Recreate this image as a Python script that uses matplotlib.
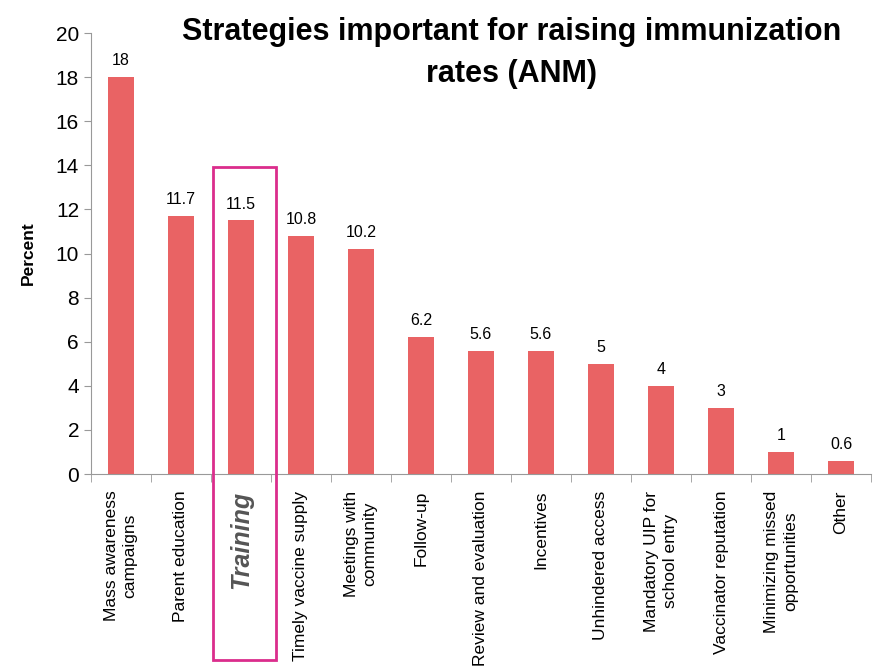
import matplotlib.pyplot as plt
from matplotlib.patches import Rectangle
import numpy as np

categories = ['Mass awareness\ncampaigns', 'Parent education', 'Training',
              'Timely vaccine supply', 'Meetings with\ncommunity', 'Follow-up',
              'Review and evaluation', 'Incentives', 'Unhindered access',
              'Mandatory UIP for\nschool entry', 'Vaccinator reputation',
              'Minimizing missed\nopportunities', 'Other']
values = [18, 11.7, 11.5, 10.8, 10.2, 6.2, 5.6, 5.6, 5, 4, 3, 1, 0.6]
value_labels = ['18', '11.7', '11.5', '10.8', '10.2', '6.2', '5.6', '5.6', '5', '4', '3', '1', '0.6']
yticks = [0, 2, 4, 6, 8, 10, 12, 14, 16, 18, 20]

plt.rcParams['font.family'] = ['Liberation Sans', 'DejaVu Sans']

fig = plt.figure(figsize=(8.74, 6.70), dpi=100)
ax = fig.add_axes([0.104, 0.2925, 0.8926, 0.6582])

x = np.arange(len(values))
ax.bar(x, values, width=0.42, color='#E96364')

for xi, v, lab in zip(x, values, value_labels):
    ax.text(xi, v + 0.4, lab, ha='center', va='bottom', fontsize=11.5)

ax.set_xlim(-0.5, len(values) - 0.5)
ax.set_ylim(0, 20)
ax.set_yticks(yticks)
ax.tick_params(axis='y', labelsize=15, length=5, color='#999999', direction='out')

ax.set_xticks(x)
ax.set_xticklabels([])
ax.tick_params(axis='x', which='major', length=0)
ax.set_xticks(np.arange(len(values) + 1) - 0.5, minor=True)
ax.tick_params(axis='x', which='minor', length=6, color='#999999', direction='out')

for xi, lab in zip(x, categories):
    if lab == 'Training':
        ax.text(xi, -0.75, lab, rotation=90, ha='center', va='top', fontsize=18,
                fontweight='bold', style='italic', color='#555555')
    else:
        ax.text(xi, -0.75, lab, rotation=90, ha='center', va='top', fontsize=12.5,
                multialignment='center', linespacing=1.3)

for side in ['top', 'right']:
    ax.spines[side].set_visible(False)
for side in ['left', 'bottom']:
    ax.spines[side].set_color('#999999')

ax.set_ylabel('Percent', fontsize=12.5, fontweight='bold', labelpad=14)

fig.text(0.585, 0.975, 'Strategies important for raising immunization\nrates (ANM)',
         ha='center', va='top', fontsize=22, fontweight='bold', linespacing=1.55)

fig.patches.append(Rectangle((213 / 874, 1 - 660 / 670), 63 / 874, 493 / 670,
                             transform=fig.transFigure, fill=False,
                             edgecolor='#DB2D8C', linewidth=2))

plt.savefig('out.png', dpi=100)
